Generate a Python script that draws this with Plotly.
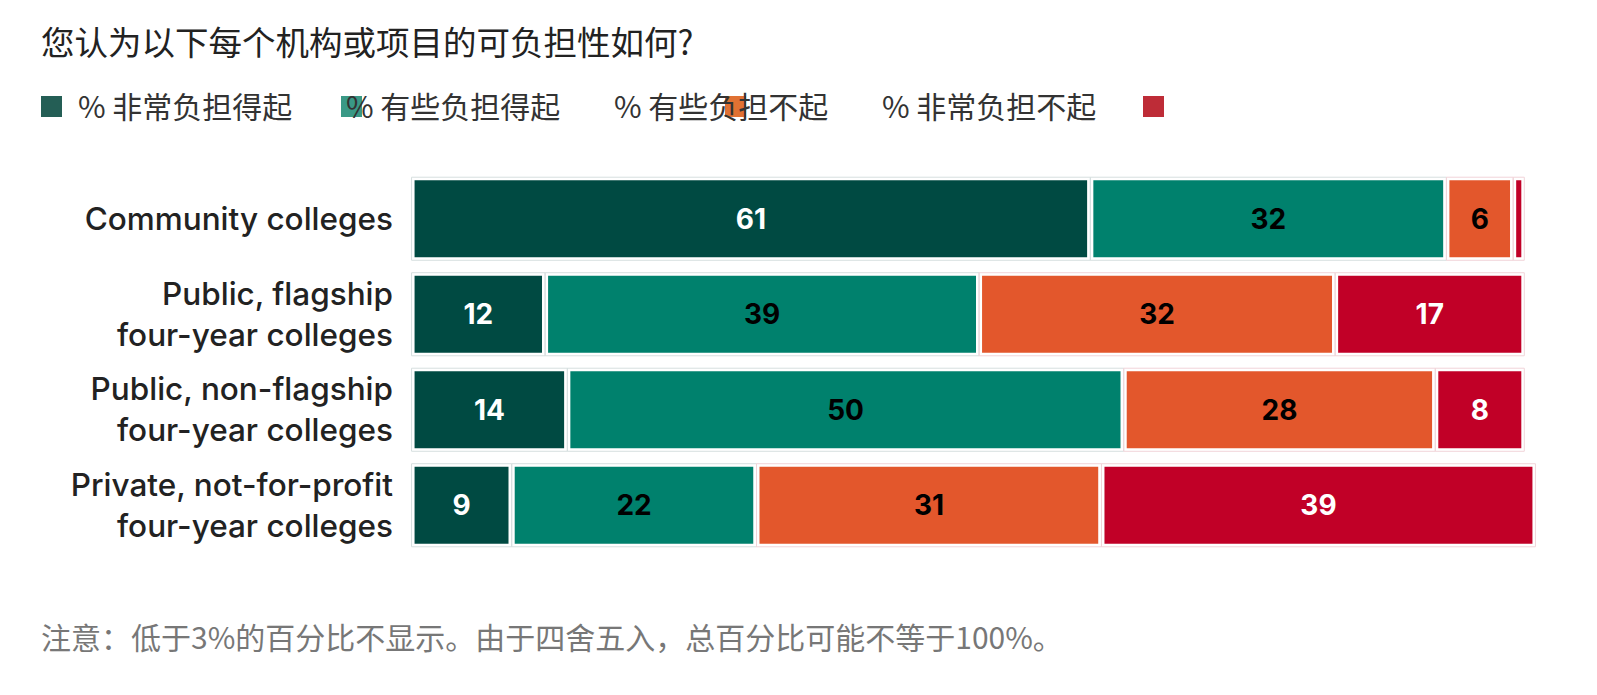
import numpy as np
import plotly.graph_objects as go

# ---------------- data ----------------
categories = [
    "Community colleges",
    "Public, flagship<br>four-year colleges",
    "Public, non-flagship<br>four-year colleges",
    "Private, not-for-profit<br>four-year colleges",
]
series_names = ["% 非常负担得起", "% 有些负担得起", "% 有些负担不起", "% 非常负担不起"]
very_affordable = [61, 12, 14, 9]
somewhat_affordable = [32, 39, 50, 22]
somewhat_unaffordable = [6, 32, 28, 31]
very_unaffordable = [1, 17, 8, 39]

title_text = "您认为以下每个机构或项目的可负担性如何?"
note_text = "注意：低于3%的百分比不显示。由于四舍五入，总百分比可能不等于100%。"

# ---------------- style ----------------
bar_colors = ["#004a42", "#00816d", "#e3572c", "#c10027"]
legend_colors = ["#245e55", "#3a9986", "#e07133", "#be2c37"]
text_colors = ["white", "black", "black", "white"]
edge_colors = ["#d6dfdf", "#d6dfdf", "#f1d4d9", "#f1d4d9"]

W_FIG, H_FIG = 1597, 695
L, T, W, H = 406, 171, 1135, 382
R = W_FIG - L - W
B = H_FIG - T - H


def xp(px):
    return (px - L) / W


def yp(py):
    return (T + H - py) / H


all_series = [very_affordable, somewhat_affordable, somewhat_unaffordable, very_unaffordable]
vals = np.array(all_series, dtype=float)
bases = np.vstack([np.zeros(vals.shape[1]), np.cumsum(vals, axis=0)[:-1]])

fig = go.Figure()
bar_w = 0.87

# coloured segments with white separating outline
for i, name in enumerate(series_names):
    v = vals[i]
    labels = [str(int(x)) if x >= 3 else "" for x in v]
    fig.add_trace(go.Bar(
        y=categories, x=v, base=bases[i], orientation="h", name=name,
        width=bar_w,
        marker=dict(color=bar_colors[i], line=dict(color="white", width=6)),
        text=labels, textposition="inside", insidetextanchor="middle",
        textangle=0,
        textfont=dict(family="Inter, Roboto, Arial", size=28, color=text_colors[i], weight="bold"),
        showlegend=False, hoverinfo="skip",
    ))

# thin light border around each segment
for i, name in enumerate(series_names):
    v = vals[i]
    fig.add_trace(go.Bar(
        y=categories, x=v, base=bases[i], orientation="h",
        width=bar_w,
        marker=dict(color="rgba(0,0,0,0)", line=dict(color=edge_colors[i], width=1)),
        showlegend=False, hoverinfo="skip",
    ))

# ---------------- custom legend ----------------
legend_square_x = [41, 341, 725, 1143]
legend_text_x = [76, 344, 612, 880]
shapes = []
annotations = []
for i in range(4):
    shapes.append(dict(
        type="rect", xref="paper", yref="paper",
        x0=xp(legend_square_x[i]), x1=xp(legend_square_x[i] + 21),
        y0=yp(117), y1=yp(96),
        fillcolor=legend_colors[i], line=dict(width=0), layer="above",
    ))
    annotations.append(dict(
        text=series_names[i], xref="paper", yref="paper",
        x=xp(legend_text_x[i]), y=yp(105), xanchor="left", yanchor="middle",
        showarrow=False,
        font=dict(family="Noto Sans CJK SC", size=30, color="#333333"),
    ))

annotations.append(dict(
    text=title_text, xref="paper", yref="paper",
    x=xp(39), y=yp(41), xanchor="left", yanchor="middle", showarrow=False,
    font=dict(family="Noto Sans CJK SC", size=33.5, color="#222222"),
))
annotations.append(dict(
    text=note_text, xref="paper", yref="paper",
    x=xp(39), y=yp(636), xanchor="left", yanchor="middle", showarrow=False,
    font=dict(family="Noto Sans CJK SC", size=30, color="#777777"),
))

fig.update_layout(
    width=W_FIG, height=H_FIG,
    margin=dict(l=L, r=R, t=T, b=B, pad=0),
    barmode="overlay",
    plot_bgcolor="white", paper_bgcolor="white",
    shapes=shapes, annotations=annotations,
    showlegend=False,
    xaxis=dict(range=[-0.5, 101.5], visible=False, fixedrange=True),
    yaxis=dict(
        categoryorder="array", categoryarray=categories, autorange="reversed",
        showgrid=False, zeroline=False, showline=False, ticks="",
        ticklabelstandoff=12,
        tickfont=dict(family="Inter, Roboto, Arial", size=31.5, color="#222222", weight=500),
        fixedrange=True,
    ),
)

fig.write_html("out.html")
